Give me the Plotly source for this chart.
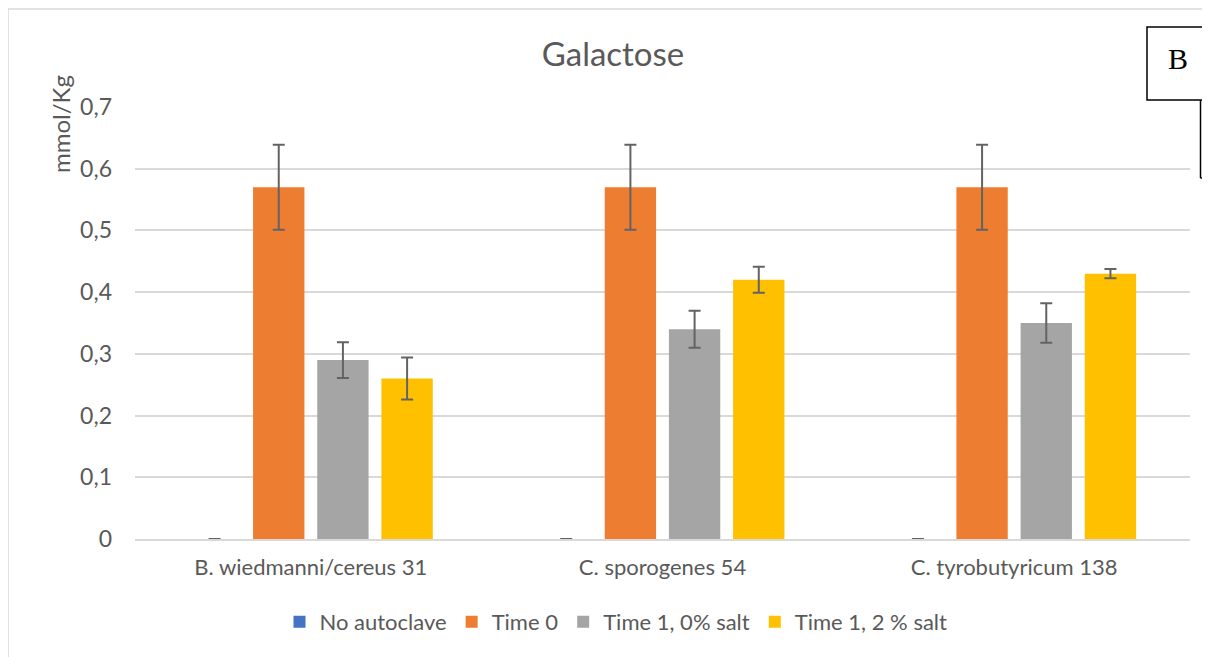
import plotly.graph_objects as go

categories = ["B. wiedmanni/cereus 31", "C. sporogenes 54", "C. tyrobutyricum 138"]
series_names = ["No autoclave", "Time 0", "Time 1, 0% salt", "Time 1, 2 % salt"]
no_autoclave = [0.0, 0.0, 0.0]
time0 = [0.57, 0.57, 0.57]
time1_0salt = [0.29, 0.34, 0.35]
time1_2salt = [0.26, 0.42, 0.43]
err_no_autoclave = [0.0, 0.0, 0.0]
err_time0 = [0.069, 0.069, 0.069]
err_time1_0salt = [0.029, 0.030, 0.032]
err_time1_2salt = [0.034, 0.021, 0.0075]
y_ticks = [0, 0.1, 0.2, 0.3, 0.4, 0.5, 0.6, 0.7]
y_tick_labels = ["0", "0,1", "0,2", "0,3", "0,4", "0,5", "0,6", "0,7"]

colors = ["#4472C4", "#ED7D31", "#A5A5A5", "#FFC000"]
values = [no_autoclave, time0, time1_0salt, time1_2salt]
errors = [err_no_autoclave, err_time0, err_time1_0salt, err_time1_2salt]

FONT = "Lato, 'Open Sans', sans-serif"
OFF = 8  # page body margin
W, H = 1210 - OFF, 657 - OFF
# plot area in page pixels: x 135..1190, y 107..539
L = 135 - OFF
T = 107 - OFF
R = W - (1190 - OFF)
B = H - (539 - OFF)
pw, ph = W - L - R, H - T - B

def px(x):
    return (x - OFF - L) / pw

def py(y):
    return (H - B - (y - OFF)) / ph

fig = go.Figure()
for name, vals, errs, col in zip(series_names, values, errors, colors):
    fig.add_trace(go.Bar(
        x=categories, y=vals, name=name,
        marker=dict(color=col, line=dict(width=0)),
        error_y=dict(type="data", array=errs, visible=True,
                     color="#636363", thickness=2, width=6),
    ))

fig.update_layout(
    width=W, height=H,
    margin=dict(l=L, r=R, t=T, b=B),
    paper_bgcolor="white", plot_bgcolor="white",
    barmode="group", bargap=0.27, bargroupgap=0.2,
    font=dict(family=FONT, color="#595959", size=22),
    title=dict(text="Galactose", x=(613 - OFF) / W, xanchor="center",
               y=1 - (54 - OFF) / H, yanchor="middle",
               font=dict(size=33, color="#595959", family=FONT)),
    showlegend=True,
    legend=dict(orientation="h", xref="container", x=(616 - OFF) / W, xanchor="center",
                yref="container", y=1 - (622 - OFF) / H, yanchor="middle",
                font=dict(size=22, color="#595959"), itemwidth=30,
                traceorder="normal"),
    xaxis=dict(showgrid=False, showline=True, linecolor="#d9d9d9", linewidth=1.5,
               ticks="", tickfont=dict(size=22, color="#595959"),
               ticklabelstandoff=8),
    yaxis=dict(range=[0, 0.7], tickvals=y_ticks, ticktext=y_tick_labels,
               showgrid=True, gridcolor="#d9d9d9", gridwidth=1.5,
               zeroline=False, showline=False, ticks="",
               tickfont=dict(size=23, color="#595959"),
               ticklabelstandoff=22),
)

fig.add_annotation(text="mmol/Kg", textangle=-90, xref="paper", yref="paper",
                   x=px(60), y=py(124), showarrow=False,
                   font=dict(size=24, color="#595959", family=FONT),
                   xanchor="center", yanchor="middle")

# outer chart frame
fig.add_shape(type="rect", xref="paper", yref="paper",
              x0=px(8), x1=px(1230), y0=py(675), y1=py(9),
              line=dict(color="#d9d9d9", width=1.5), fillcolor="rgba(0,0,0,0)")
# overlay boxes
fig.add_shape(type="line", xref="paper", yref="paper",
              x0=px(1200.5), x1=px(1200.5), y0=py(178), y1=py(100),
              line=dict(color="black", width=1.5))
fig.add_shape(type="line", xref="paper", yref="paper",
              x0=px(1200.5), x1=px(1212), y0=py(178), y1=py(178),
              line=dict(color="black", width=1.5))
fig.add_shape(type="rect", xref="paper", yref="paper",
              x0=px(1147), x1=px(1230), y0=py(100), y1=py(27),
              line=dict(color="black", width=1.5), fillcolor="white")
fig.add_annotation(text="B", xref="paper", yref="paper", x=px(1177.5), y=py(58),
                   showarrow=False, xanchor="center", yanchor="middle",
                   font=dict(size=30, color="black", family="Liberation Serif, serif"))

fig.write_html("out.html")
